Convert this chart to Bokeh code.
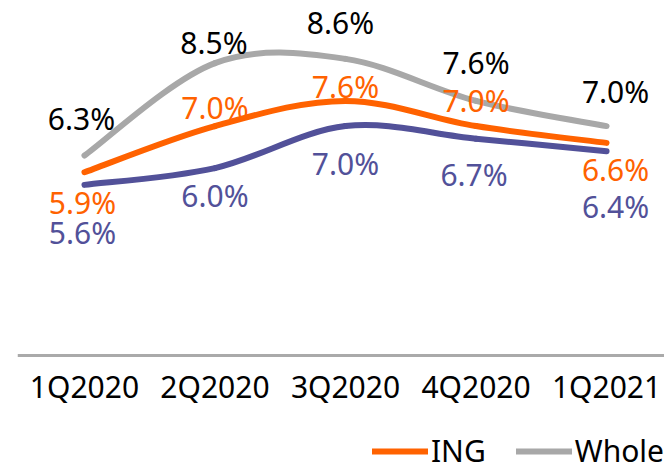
from bokeh.plotting import figure
from bokeh.models import ColumnDataSource, Range1d, Legend, LegendItem
from bokeh.core.properties import value
from bokeh.embed import file_html
from bokeh.resources import INLINE

quarters = ["1Q2020", "2Q2020", "3Q2020", "4Q2020", "1Q2021"]
whole = [6.3, 8.5, 8.6, 7.6, 7.0]
ing = [5.9, 7.0, 7.6, 7.0, 6.6]
other = [5.6, 6.0, 7.0, 6.7, 6.4]

# label nudges in screen pixels (style only)
whole_dx = [-3, -1, -5, 0, 9]
whole_dy = [-37, -21, -36, -38, -35]
ing_dx = [-2, 0, 0, 0, 9]
ing_dy = [30, -19, -14, -26, 27]
other_dx = [-2, 0, 0, -2, 9]
other_dy = [48, 27, 37, 36, 55]

ORANGE = "#FF6200"
GREY = "#A8A8A8"
PURPLE = "#525199"
FONT = "Noto Sans"
BASE = 1.538  # where the category axis sits on the value scale

p = figure(width=664, height=471, output_backend="svg", toolbar_location=None,
           x_range=Range1d(-0.513, 4.444), y_range=Range1d(-1.224, 9.99),
           min_border_left=17, min_border_right=0, min_border_top=0, min_border_bottom=0)
p.outline_line_color = None
p.grid.visible = False
p.yaxis.visible = False
p.background_fill_color = "white"
p.border_fill_color = "white"

ax = p.xaxis[0]
ax.fixed_location = BASE
ax.ticker = list(range(len(quarters)))
ax.major_label_overrides = {i: q for i, q in enumerate(quarters)}
ax.major_tick_line_color = None
ax.minor_tick_line_color = None
ax.major_tick_out = 0
ax.major_tick_in = 0
ax.axis_line_color = "#AAAAAA"
ax.axis_line_width = 3
ax.major_label_text_font = FONT
ax.major_label_text_font_size = "30px"
ax.major_label_text_color = "black"
ax.major_label_standoff = 11


def smooth(vals):
    n = len(vals)
    xs = list(range(n))
    pts = list(zip(xs, vals))
    x0, y0, x1, y1, cx0, cy0, cx1, cy1 = [], [], [], [], [], [], [], []
    for i in range(n - 1):
        pm = pts[max(i - 1, 0)]
        pa = pts[i]
        pb = pts[i + 1]
        pn = pts[min(i + 2, n - 1)]
        x0.append(pa[0]); y0.append(pa[1])
        x1.append(pb[0]); y1.append(pb[1])
        cx0.append(pa[0] + (pb[0] - pm[0]) / 6.0)
        cy0.append(pa[1] + (pb[1] - pm[1]) / 6.0)
        cx1.append(pb[0] - (pn[0] - pa[0]) / 6.0)
        cy1.append(pb[1] - (pn[1] - pa[1]) / 6.0)
    return ColumnDataSource(dict(x0=x0, y0=y0, x1=x1, y1=y1, cx0=cx0, cy0=cy0, cx1=cx1, cy1=cy1))


def draw(vals, color):
    return p.bezier(x0="x0", y0="y0", x1="x1", y1="y1", cx0="cx0", cy0="cy0", cx1="cx1", cy1="cy1",
                    source=smooth(vals), line_color=color, line_width=6, line_cap="round")


r_whole = draw(whole, GREY)
r_other = draw(other, PURPLE)
r_ing = draw(ing, ORANGE)


def labels(vals, dx, dy, color):
    src = ColumnDataSource(dict(x=list(range(len(vals))), y=vals,
                                t=["%.1f%%" % v for v in vals], dx=dx, dy=dy))
    p.text(x="x", y="y", text="t", x_offset="dx", y_offset="dy", source=src,
           text_color=color, text_font=value(FONT), text_font_size="30px",
           text_align="center", text_baseline="middle")


labels(whole, whole_dx, whole_dy, "black")
labels(ing, ing_dx, ing_dy, ORANGE)
labels(other, other_dx, other_dy, PURPLE)

legend = Legend(items=[LegendItem(label="ING", renderers=[r_ing]),
                       LegendItem(label="Whole", renderers=[r_whole])],
                orientation="horizontal", location="bottom_right")
legend.label_text_font = FONT
legend.label_text_font_size = "30px"
legend.label_text_color = "black"
legend.glyph_width = 56
legend.glyph_height = 20
legend.label_height = 20
legend.label_standoff = 3
legend.spacing = 30
legend.padding = 0
legend.margin = 0
legend.border_line_color = None
legend.background_fill_alpha = 0
p.add_layout(legend, "center")

open("out.html", "w").write(file_html(p, INLINE))
